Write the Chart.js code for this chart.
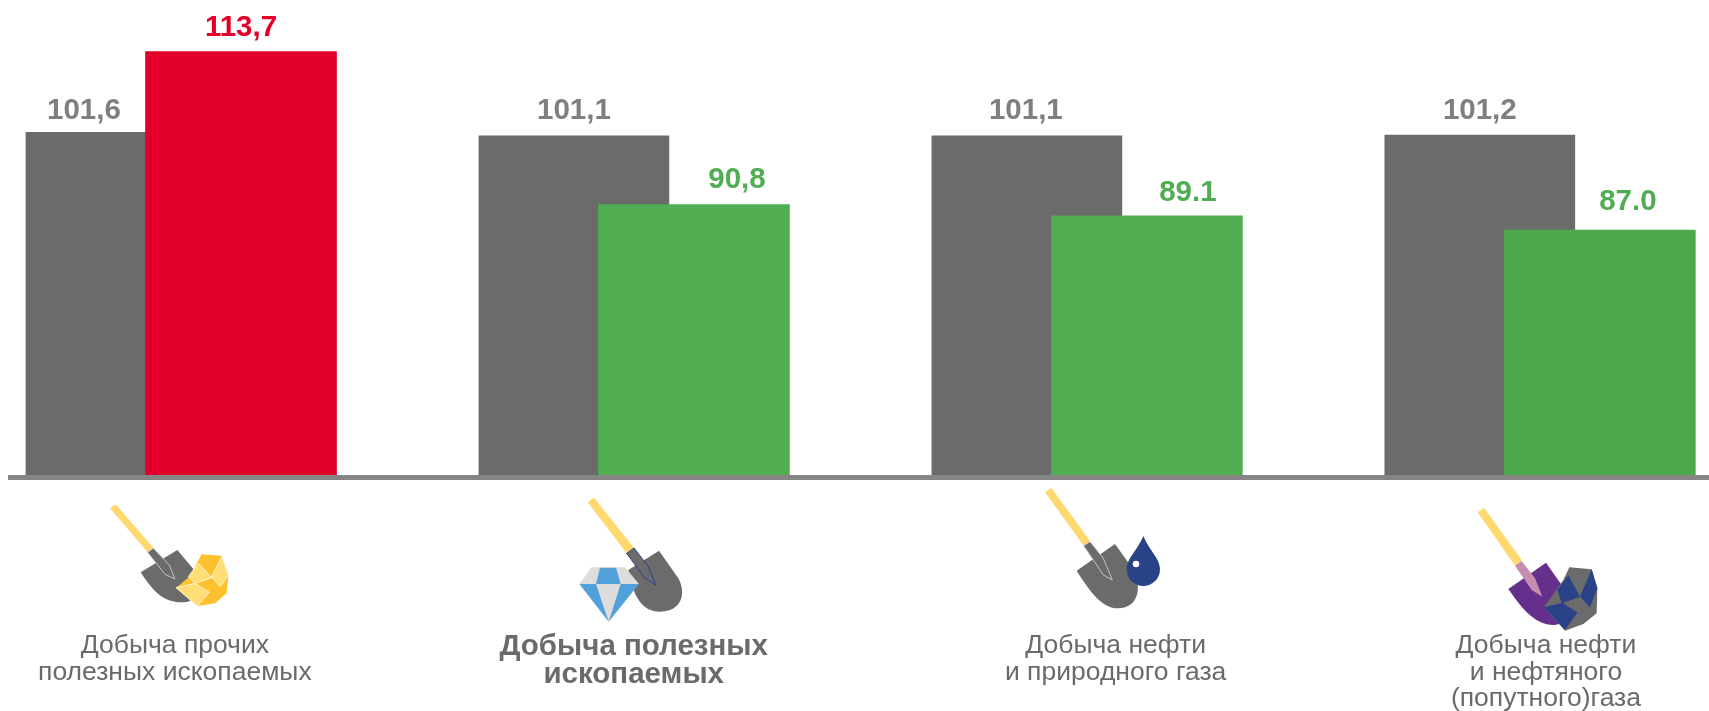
<!DOCTYPE html>
<html>
<head>
<meta charset="utf-8">
<title>Добыча</title>
<script src="https://cdn.jsdelivr.net/npm/chart.js@4/dist/chart.umd.min.js"></script>
<style>
html, body { margin: 0; padding: 0; background: #fff; }
#wrap { position: relative; width: 1709px; height: 711px; }
</style>
</head>
<body>
<div id="wrap"><canvas id="chart"></canvas></div>
<script>
const categories = [
    ['Добыча прочих', 'полезных ископаемых'],
    ['Добыча полезных', 'ископаемых'],
    ['Добыча нефти', 'и природного газа'],
    ['Добыча нефти', 'и нефтяного', '(попутного)газа']
];
const previousValues = [101.6, 101.1, 101.1, 101.2];
const currentValues = [113.7, 90.8, 89.1, 87.0];
const previousLabels = ['101,6', '101,1', '101,1', '101,2'];
const currentLabels = ['113,7', '90,8', '89.1', '87.0'];

// the picture is not evenly laid out, so these are read off it
const categoryTicks = [0.119, 1.132, 2.196, 3.146];
const previousNudge = [-37, 0, -1, 0];
const currentNudge = [0, 43, 41, 28];
const previousLift = [22, 25, 25, 24];
const currentLift = [24, 25, 23, 28];
const currentOffset = 0.265;
const yMin = 50.35;
const yMax = 121.4;

const GREY = '#6b6b6b', RED = '#e2002b', GREEN = '#50ad52';
const YELLOW = '#ffd970', AMBER = '#ffc02e', NAVY = '#294288', SKY = '#52a0d9', PALE = '#dddddd';
const currentColors = [RED, GREEN, GREEN, '#4ca84c'];

// little shovel pictures under the axis, points are in thirds of a pixel from the origin
function poly(ctx, ox, oy, pts, fill, stroke) {
    ctx.beginPath();
    pts.forEach((p, i) => ctx.lineTo(ox + p[0] / 3, oy + p[1] / 3));
    ctx.closePath();
    ctx.fillStyle = fill;
    ctx.fill();
    if (stroke) {
        ctx.strokeStyle = stroke;
        ctx.lineWidth = 1;
        ctx.stroke();
    }
}

function blade(ctx, ox, oy, d, fill) {
    const s = n => n / 3;
    ctx.beginPath();
    ctx.moveTo(ox + s(d[0][0]), oy + s(d[0][1]));
    ctx.lineTo(ox + s(d[1][0]), oy + s(d[1][1]));
    ctx.lineTo(ox + s(d[2][0]), oy + s(d[2][1]));
    ctx.bezierCurveTo(ox + s(d[3][0]), oy + s(d[3][1]), ox + s(d[4][0]), oy + s(d[4][1]), ox + s(d[5][0]), oy + s(d[5][1]));
    ctx.bezierCurveTo(ox + s(d[6][0]), oy + s(d[6][1]), ox + s(d[7][0]), oy + s(d[7][1]), ox + s(d[8][0]), oy + s(d[8][1]));
    ctx.closePath();
    ctx.fillStyle = fill;
    ctx.fill();
}

function drawIcons(ctx) {
    // gold nugget
    let ox = 100, oy = 495;
    poly(ctx, ox, oy, [[30,40],[47,28],[160,158],[143,172]], YELLOW);
    blade(ctx, ox, oy, [[122,232],[232,165],[280,222],[300,260],[300,322],[250,322],[190,324],[160,290],[122,232]], GREY);
    poly(ctx, ox, oy, [[143,172],[160,160],[208,210],[225,252],[195,238]], GREY, '#c4c4c4');
    poly(ctx, ox, oy, [[305,178],[365,182],[385,240],[380,295],[345,325],[295,333],[228,278],[268,245]], AMBER);
    poly(ctx, ox, oy, [[295,205],[335,248],[285,265],[265,245]], '#ffdd77', '#fff3cf');
    poly(ctx, ox, oy, [[365,185],[385,240],[360,275],[335,245]], '#ffdd77', '#fff3cf');
    poly(ctx, ox, oy, [[228,278],[285,265],[328,292],[292,333]], '#ffdd77', '#fff3cf');

    // diamond
    ox = 570; oy = 490;
    poly(ctx, ox, oy, [[53,37],[72,23],[192,173],[170,190]], YELLOW);
    blade(ctx, ox, oy, [[175,240],[267,182],[325,265],[350,310],[335,365],[270,365],[215,365],[190,320],[175,240]], GREY);
    poly(ctx, ox, oy, [[170,190],[192,174],[235,230],[257,285],[225,265]], GREY, NAVY);
    poly(ctx, ox, oy, [[65,232],[165,232],[207,282],[28,282]], PALE);
    poly(ctx, ox, oy, [[90,233],[138,233],[152,282],[78,282]], SKY);
    poly(ctx, ox, oy, [[28,282],[207,282],[116,395]], SKY);
    poly(ctx, ox, oy, [[78,282],[152,282],[116,395]], PALE);

    // oil drop
    ox = 1035; oy = 480;
    poly(ctx, ox, oy, [[30,37],[49,23],[165,183],[146,197]], YELLOW);
    blade(ctx, ox, oy, [[125,272],[240,192],[290,262],[325,320],[310,385],[250,385],[200,385],[165,335],[125,272]], GREY);
    poly(ctx, ox, oy, [[146,197],[165,185],[205,235],[232,300],[205,285]], GREY, '#c4c4c4');
    ctx.beginPath();
    ctx.moveTo(ox + 325 / 3, oy + 168 / 3);
    ctx.bezierCurveTo(ox + 345 / 3, oy + 215 / 3, ox + 375 / 3, oy + 235 / 3, ox + 375 / 3, oy + 268 / 3);
    ctx.arc(ox + 325 / 3, oy + 268 / 3, 50 / 3, 0, Math.PI);
    ctx.bezierCurveTo(ox + 275 / 3, oy + 235 / 3, ox + 305 / 3, oy + 215 / 3, ox + 325 / 3, oy + 168 / 3);
    ctx.fillStyle = NAVY;
    ctx.fill();
    ctx.beginPath();
    ctx.arc(ox + 303 / 3, oy + 252 / 3, 10 / 3, 0, Math.PI * 2);
    ctx.fillStyle = '#fff';
    ctx.fill();

    // coal and oil
    ox = 1470; oy = 500;
    poly(ctx, ox, oy, [[23,37],[42,23],[157,183],[135,197]], YELLOW);
    blade(ctx, ox, oy, [[115,267],[228,188],[275,255],[300,300],[300,375],[250,375],[195,375],[155,325],[115,267]], '#65308c');
    poly(ctx, ox, oy, [[135,197],[155,183],[195,235],[217,290],[185,270]], '#c58db0');
    poly(ctx, ox, oy, [[298,202],[365,208],[382,265],[380,340],[340,372],[285,392],[222,322],[280,240]], GREY);
    poly(ctx, ox, oy, [[295,225],[330,290],[275,310],[262,270]], NAVY);
    poly(ctx, ox, oy, [[365,208],[382,265],[360,322],[330,290]], NAVY);
    poly(ctx, ox, oy, [[222,322],[278,308],[322,338],[285,390]], NAVY);
}

const valueLabels = {
    id: 'valueLabels',
    afterDatasetsDraw(chart) {
        const ctx = chart.ctx;
        ctx.save();
        ctx.font = 'bold 29.5px "Liberation Sans"';
        ctx.textAlign = 'center';
        ctx.textBaseline = 'middle';
        chart.getDatasetMeta(1).data.forEach((bar, i) => {
            ctx.fillStyle = '#7f7f7f';
            ctx.fillText(previousLabels[i], bar.x + previousNudge[i], bar.y - previousLift[i]);
        });
        chart.getDatasetMeta(0).data.forEach((bar, i) => {
            ctx.fillStyle = currentValues[i] > 100 ? RED : GREEN;
            ctx.fillText(currentLabels[i], bar.x + currentNudge[i], bar.y - currentLift[i]);
        });
        drawIcons(ctx);
        ctx.restore();
    }
};

new Chart(document.getElementById('chart').getContext('2d'), {
    type: 'bar',
    data: {
        datasets: [{
            data: currentValues.map((v, i) => ({ x: i + currentOffset, y: v })),
            backgroundColor: currentColors,
            grouped: false,
            barThickness: 191
        }, {
            data: previousValues.map((v, i) => ({ x: i, y: v })),
            backgroundColor: GREY,
            grouped: false,
            barThickness: 190
        }]
    },
    options: {
        responsive: true,
        maintainAspectRatio: false,
        animation: false,
        layout: { padding: { left: 10, right: 0, top: 0, bottom: 236 } },
        plugins: { legend: { display: false }, tooltip: { enabled: false } },
        scales: {
            x: {
                type: 'linear',
                offset: false,
                position: { y: yMin - 0.37 },
                min: -0.245,
                max: 3.506,
                afterBuildTicks: scale => { scale.ticks = categoryTicks.map(value => ({ value })); },
                // labels stay inside the canvas, no need for the side room the scale asks for
                afterFit: scale => { scale.paddingLeft = 0; scale.paddingRight = 0; },
                grid: { display: false, drawTicks: false },
                border: { color: '#858585', width: 5 },
                ticks: {
                    autoSkip: false,
                    maxRotation: 0,
                    padding: 155,
                    color: '#6a6a6a',
                    font: ctx => ctx.index === 1
                        ? { family: '"Liberation Sans"', size: 29.5, weight: 'bold', lineHeight: 0.96 }
                        : { family: '"Liberation Sans"', size: 26.5, lineHeight: 1 },
                    callback: (value, i) => categories[i]
                }
            },
            y: { display: false, min: yMin, max: yMax }
        }
    },
    plugins: [valueLabels]
});
</script>
</body>
</html>
